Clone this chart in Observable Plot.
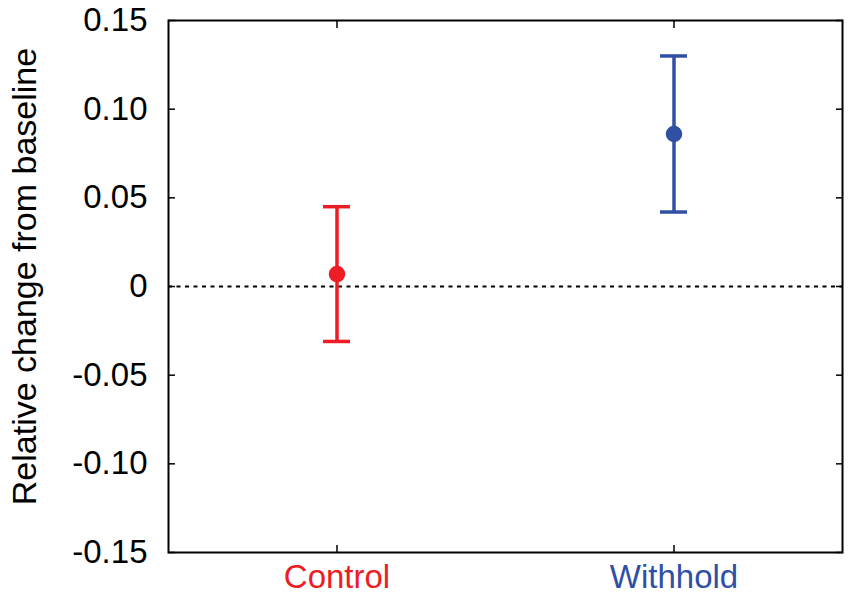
<!DOCTYPE html>
<html>
<head>
<meta charset="utf-8">
<script src="https://cdn.jsdelivr.net/npm/d3@7"></script>
<script src="https://cdn.jsdelivr.net/npm/@observablehq/plot@0.6"></script>
<style>
  html, body { margin: 0; padding: 0; background: #fff; }
  svg { display: block; }
</style>
</head>
<body>
<div id="chart"></div>
<script>
const groups = ["Control", "Withhold"];
const means = [0.007, 0.086];
const lower = [-0.031, 0.042];
const upper = [0.045, 0.130];
const groupColors = ["#ee1c24", "#3050a6"];
const yTicks = [-0.15, -0.10, -0.05, 0, 0.05, 0.10, 0.15];
const yTickLabels = ["-0.15", "-0.10", "-0.05", "0", "0.05", "0.10", "0.15"];
const yLabel = "Relative change from baseline";

const data = groups.map((g, i) => ({group: g, mean: means[i], lo: lower[i], hi: upper[i], color: groupColors[i]}));
const fmt = d => yTickLabels[yTicks.findIndex(t => Math.abs(t - d) < 1e-9)];

const font = "Liberation Sans, Arial, sans-serif";

const chart = Plot.plot({
  width: 850,
  height: 597,
  marginLeft: 168,
  marginRight: 8,
  marginTop: 20,
  marginBottom: 45,
  style: {fontFamily: font, background: "#fff"},
  x: {domain: groups, type: "band", paddingInner: 0.92, paddingOuter: 0.46, axis: null},
  y: {domain: [-0.15, 0.15], axis: null},
  marks: [
    Plot.ruleY([0], {stroke: "black", strokeWidth: 2, strokeDasharray: "4,4.5"}),
    Plot.axisY({ticks: yTicks, anchor: "left", tickSize: 0, tickPadding: 21, tickFormat: fmt, fontSize: 33, fill: "black", label: null}),
    Plot.axisY({ticks: yTicks, anchor: "left", tickSize: -7, text: null, strokeWidth: 1.5, label: null}),
    Plot.axisY({ticks: yTicks, anchor: "right", tickSize: -7, text: null, strokeWidth: 1.5, label: null}),
    Plot.axisX({anchor: "bottom", tickSize: -7, text: null, strokeWidth: 1.5, label: null}),
    Plot.axisX({anchor: "top", tickSize: -7, text: null, strokeWidth: 1.5, label: null}),
    Plot.text(data, {x: "group", text: "group", frameAnchor: "bottom", lineAnchor: "top", dy: 12, fontSize: 33, fill: "color"}),
    Plot.text([yLabel], {frameAnchor: "left", textAnchor: "middle", rotate: -90, dx: -143, dy: -10, fontSize: 34, fill: "black"}),
    Plot.ruleX(data, {x: "group", y1: "lo", y2: "hi", stroke: "color", strokeWidth: 3.5}),
    Plot.tickY(data, {x: "group", y: "lo", stroke: "color", strokeWidth: 3.5}),
    Plot.tickY(data, {x: "group", y: "hi", stroke: "color", strokeWidth: 3.5}),
    Plot.dot(data, {x: "group", y: "mean", r: 7.5, fill: "color", stroke: "color"}),
    Plot.frame({stroke: "black", strokeWidth: 2})
  ]
});
document.getElementById("chart").appendChild(chart);
</script>
</body>
</html>
